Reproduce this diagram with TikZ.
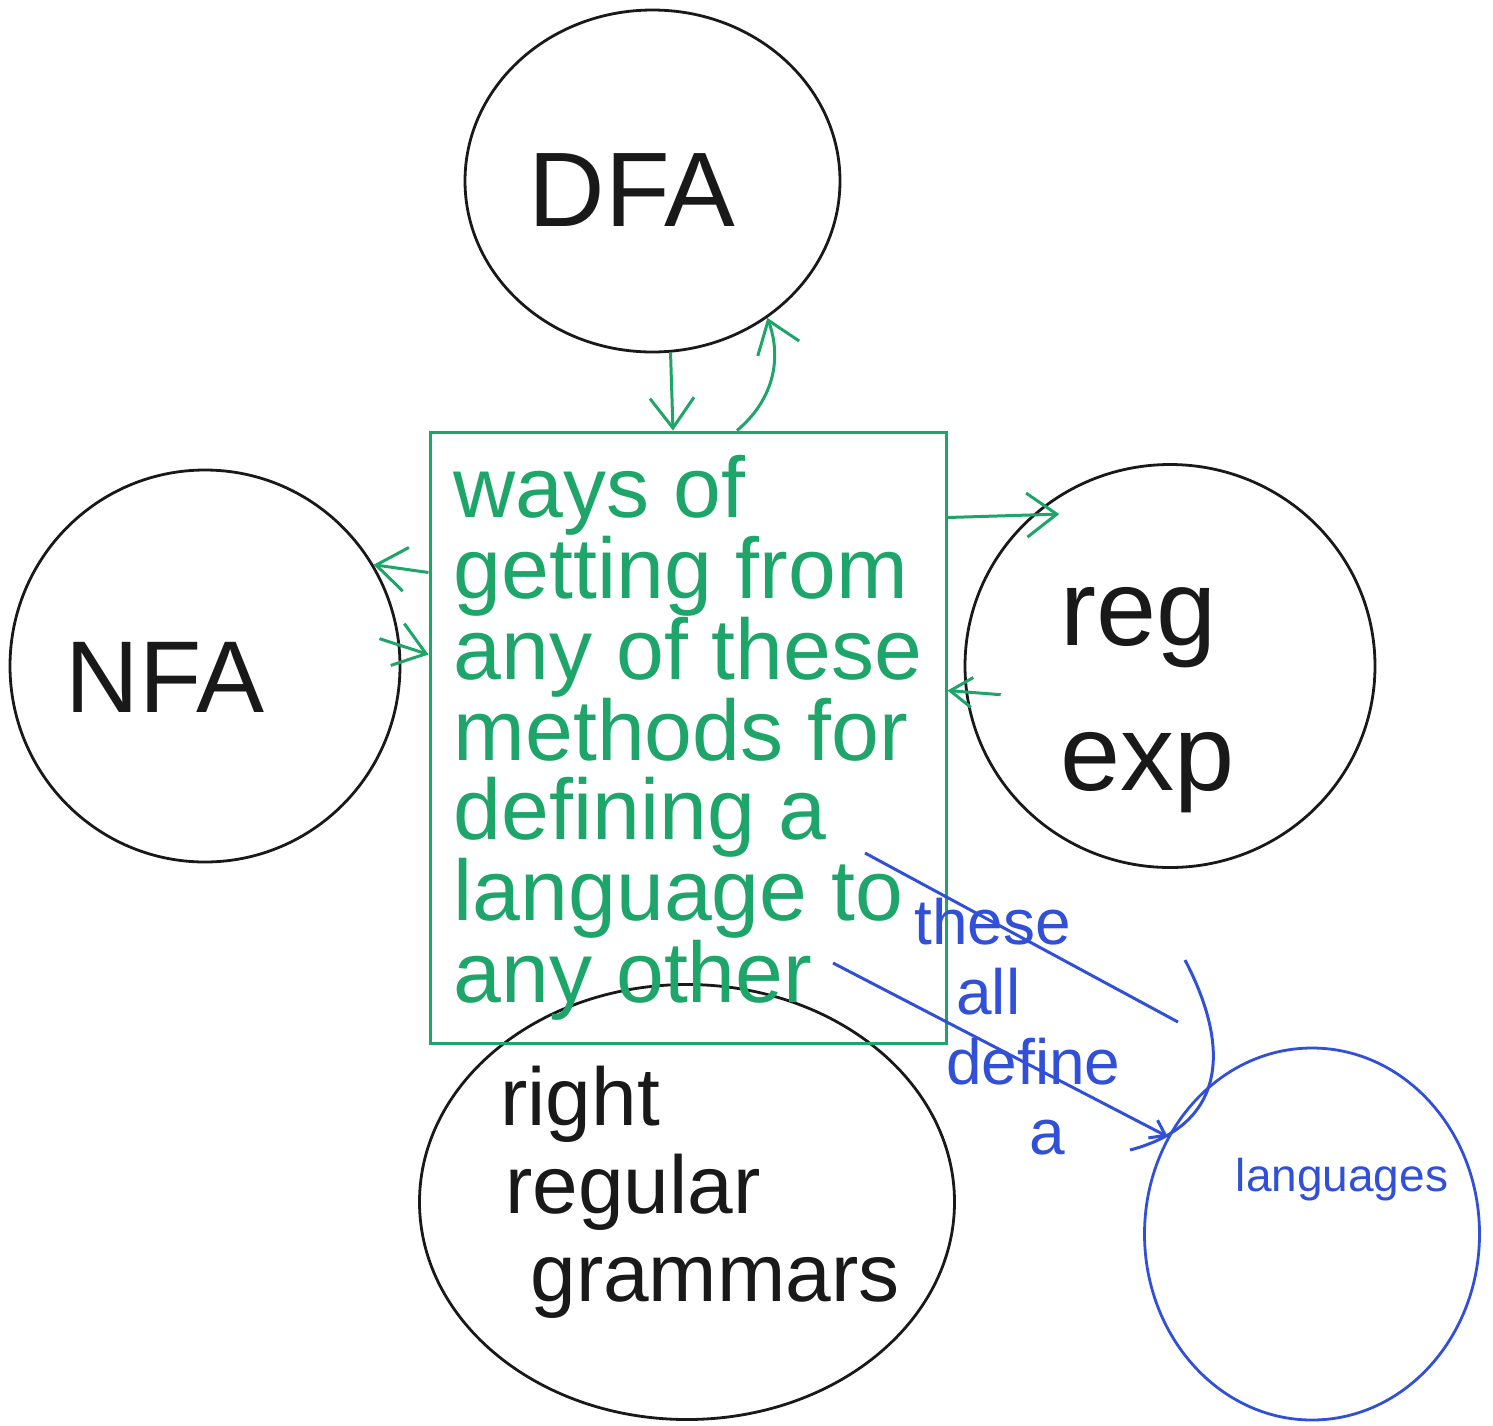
\documentclass[tikz,border=0pt]{standalone}
\usepackage{fontspec}
\setmainfont{Liberation Sans}
\usetikzlibrary{shapes.geometric,arrows.meta}
\definecolor{pengreen}{RGB}{30,165,105}
\definecolor{penblue}{RGB}{50,80,215}
\definecolor{penblack}{RGB}{25,25,25}
\begin{document}
\begin{tikzpicture}[x=1pt,y=-1pt,
  circ/.style={draw=penblack, line width=2.8pt, ellipse, inner sep=0pt},
  bcirc/.style={draw=penblue, line width=2.8pt, ellipse, inner sep=0pt},
  blacktext/.style={text=penblack, align=left, inner sep=0pt},
  gbox/.style={draw=pengreen, line width=3pt, rectangle, text=pengreen, align=left, inner sep=0pt,
    font=\fontsize{86}{79}\selectfont},
  garrow/.style={draw=pengreen, line width=3pt, -{Straight Barb[length=30pt,width=44pt]}},
  bline/.style={draw=penblue, line width=3pt},
  bluetext/.style={text=penblue, align=left, inner sep=0pt, font=\fontsize{64}{70}\selectfont}
]
\useasboundingbox[fill=white] (0,0) rectangle (1493,1425);

% circles
\node[circ, minimum width=375pt, minimum height=342pt] (dfa) at (652.5,181) {};
\node[blacktext, font=\fontsize{106}{106}\selectfont] (dfat) at (632,190) {DFA};
\node[circ, minimum width=390pt, minimum height=392pt] (nfa) at (205,666) {};
\node[blacktext, font=\fontsize{102}{102}\selectfont] (nfat) at (165,677) {NFA};
\node[circ, minimum width=410pt, minimum height=403pt] (regexp) at (1170,666) {};
\node[blacktext, font=\fontsize{108}{145}\selectfont] (regexpt) at (1148,700) {reg\\exp};
\node[circ, minimum width=535pt, minimum height=435pt] (rrg) at (687,1202) {};
\node[blacktext, font=\fontsize{82}{88}\selectfont] (rrgt) at (700,1192)
  {right\\\hspace*{5pt}regular\\\hspace*{30pt}grammars};
\node[bcirc, minimum width=335pt, minimum height=372pt] (langs) at (1312,1234) {};
\node[bluetext, font=\fontsize{46}{46}\selectfont] (langst) at (1342,1180) {languages};

% green box
\node[gbox, minimum width=516pt, minimum height=611pt] (box) at (688,737.5)
  {ways of\\getting from\\any of these\\methods for\\defining a\\language to\\any other};

% green connectors
\draw[garrow] (dfa.-84) -- ([xshift=-15pt]box.north);
\draw[garrow] ([xshift=49pt]box.north) to[bend right=35] (dfa.-50);
\draw[garrow] ([yshift=165pt]box.west) -- (nfa.31);
\draw[garrow] ([xshift=-20pt]nfa.8) -- ([yshift=83pt]box.west);
\draw[garrow] ([yshift=220pt]box.east) -- ([xshift=15pt,yshift=-9pt]regexp.128);
\draw[draw=pengreen, line width=3pt, -{Straight Barb[length=22pt,width=30pt]}]
  ([xshift=35pt]regexp.188) -- ([yshift=47pt]box.east);

% blue text and big arrow
\node[bluetext, anchor=north west] (bt) at (914,898)
  {these\\\hspace*{42pt}all\\\hspace*{32pt}define\\\hspace*{115pt}a};
\coordinate (bl1s) at (865,853);
\coordinate (bl1e) at (1178,1022);
\coordinate (bl2s) at (833,963);
\coordinate (hd1) at (1185,960);
\coordinate (hd2) at (1130,1150);
\draw[bline] (bl1s) -- (bl1e);
\draw[bline, -{Straight Barb[length=14pt,width=20pt]}] (bl2s) -- (langs.146);
\draw[bline] (hd1) .. controls (1232,1050) and (1225,1125) .. (hd2);
\end{tikzpicture}
\end{document}
